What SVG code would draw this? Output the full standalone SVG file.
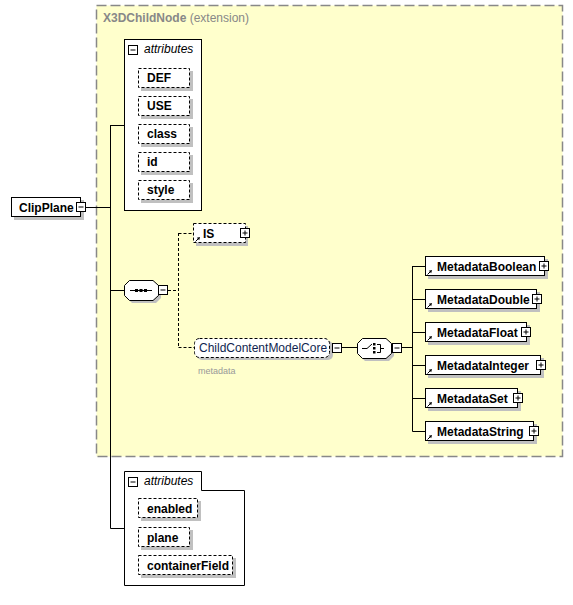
<svg xmlns="http://www.w3.org/2000/svg" width="573" height="605" viewBox="0 0 573 605">
<defs>
<style>
text{font-family:"Liberation Sans",Arial,sans-serif;}
.b{font-weight:bold;font-size:12px;fill:#000;}
.it{font-style:italic;font-size:12px;fill:#000;}
.sh{fill:#c0c0c0;stroke:none;}
.box{fill:#fff;stroke:#000;stroke-width:1;}
.dbox{fill:#fff;stroke:#000;stroke-width:1;stroke-dasharray:3,2;}
.ln{stroke:#000;stroke-width:1;fill:none;}
.dl{stroke:#000;stroke-width:1;fill:none;stroke-dasharray:3,2;}
.btn{fill:#fff;stroke:#000;stroke-width:1;}
</style>
<g id="minus"><rect class="btn" x="0.5" y="0.5" width="9" height="9"/><path d="M2.5,5H7.5" class="ln"/></g>
<g id="plus"><rect class="btn" x="0.5" y="0.5" width="9" height="9"/><path d="M2.5,5H7.5M5,2.5V7.5" class="ln"/></g>
<g id="ref"><path d="M0.5,5.5L4,2" class="ln" stroke-width="1.2"/><path d="M5,1L1.8,1.8L4.2,4.2Z" fill="#000"/></g>
</defs>
<rect width="573" height="605" fill="#fff"/>
<g id="extension">
<rect x="96.5" y="5.5" width="466" height="451" fill="#ffffcc" stroke="#888" stroke-width="1.5" stroke-dasharray="10,4"/>
<text x="103" y="22" font-size="12" fill="#888"><tspan font-weight="bold">X3DChildNode</tspan> (extension)</text>
</g>
<g id="connectors">
<path class="ln" d="M86,207.5H110.5M110.5,125V528.5M110.5,125.5H124M110.5,290.5H124M110.5,528.5H124"/>
<path class="dl" d="M168,290.5H178.5M178.5,233V347.5M178.5,233.5H193M178.5,347.5H194"/>
<path class="ln" d="M342,347.5H357M402,347.5H412.5M412.5,266V431.5M412.5,266.5H425M412.5,299.5H425M412.5,332.5H425M412.5,365.5H425M412.5,398.5H425M412.5,431.5H425"/>
</g>
<g id="ClipPlane">
<rect class="sh" x="14" y="200" width="70" height="20"/>
<rect class="box" x="11.5" y="197.5" width="69" height="19"/>
<text class="b" x="19" y="212">ClipPlane</text>
<use href="#minus" x="76" y="202"/>
</g>
<g id="attributes1">
<rect class="box" x="124.5" y="39.5" width="77" height="171"/>
<use href="#minus" x="128" y="45"/>
<text class="it" x="144" y="53">attributes</text>
</g>
<g id="DEF"><rect class="sh" x="141" y="71" width="52" height="20"/><rect class="dbox" x="138.5" y="68.5" width="51" height="19"/><text class="b" x="147" y="82">DEF</text></g>
<g id="USE"><rect class="sh" x="141" y="99" width="52" height="20"/><rect class="dbox" x="138.5" y="96.5" width="51" height="19"/><text class="b" x="147" y="110">USE</text></g>
<g id="class"><rect class="sh" x="141" y="127" width="52" height="20"/><rect class="dbox" x="138.5" y="124.5" width="51" height="19"/><text class="b" x="147" y="138">class</text></g>
<g id="id"><rect class="sh" x="141" y="155" width="52" height="20"/><rect class="dbox" x="138.5" y="152.5" width="51" height="19"/><text class="b" x="147" y="166">id</text></g>
<g id="style"><rect class="sh" x="141" y="183" width="52" height="20"/><rect class="dbox" x="138.5" y="180.5" width="51" height="19"/><text class="b" x="147" y="194">style</text></g>
<g id="sequence">
<path class="sh" d="M132,283H156L161,288V298L156,303H132L127,298V288Z"/>
<path class="box" d="M129.5,280.5H153L158.5,285.5V295.5L153,300.5H129.5L124.5,295.5V285.5Z"/>
<path class="ln" d="M130,290.5H152"/>
<rect x="135" y="289" width="3" height="3" fill="#000"/><rect x="139.5" y="289" width="3" height="3" fill="#000"/><rect x="144" y="289" width="3" height="3" fill="#000"/>
<use href="#minus" x="158" y="285"/>
</g>
<g id="IS">
<rect class="sh" x="196" y="226" width="52" height="20"/>
<rect class="dbox" x="193.5" y="223.5" width="52" height="19"/>
<use href="#ref" x="195" y="236"/>
<text class="b" x="203" y="238">IS</text>
<use href="#plus" x="240" y="228"/>
</g>
<g id="ChildContentModelCore">
<rect class="sh" x="197" y="341" width="136" height="19" rx="5"/>
<rect class="dbox" x="194.5" y="338.5" width="135" height="19" rx="5"/>
<text x="199" y="352" font-size="12" fill="#0f1f4f">ChildContentModelCore</text>
<use href="#minus" x="332" y="343"/>
<text x="198" y="374" font-size="9" fill="#999">metadata</text>
</g>
<g id="choice">
<path class="sh" d="M365,341H389L394,346V356L389,361H365L360,356V346Z"/>
<path class="box" d="M362.5,338.5H386L391.5,343.5V353.5L386,358.5H362.5L357.5,353.5V343.5Z"/>
<path class="ln" d="M362,348.5H367L372,344"/>
<rect x="373" y="343" width="2.5" height="2.5" fill="#000"/><rect x="373" y="347" width="2.5" height="2.5" fill="#000"/><rect x="373" y="351" width="2.5" height="2.5" fill="#000"/>
<path class="ln" d="M377,344.5H380.5V352.5H377M380.5,348.5H384"/>
<use href="#minus" x="392" y="343"/>
</g>
<g id="MetadataBoolean"><rect class="sh" x="428" y="259" width="120" height="20"/><rect class="box" x="425.5" y="256.5" width="119" height="19"/><use href="#ref" x="427" y="269"/><text class="b" x="437" y="271">MetadataBoolean</text><use href="#plus" x="539" y="261"/></g>
<g id="MetadataDouble"><rect class="sh" x="428" y="292" width="112" height="20"/><rect class="box" x="425.5" y="289.5" width="111" height="19"/><use href="#ref" x="427" y="302"/><text class="b" x="437" y="304">MetadataDouble</text><use href="#plus" x="532" y="294"/></g>
<g id="MetadataFloat"><rect class="sh" x="428" y="325" width="102" height="20"/><rect class="box" x="425.5" y="322.5" width="101" height="19"/><use href="#ref" x="427" y="335"/><text class="b" x="437" y="337">MetadataFloat</text><use href="#plus" x="521" y="327"/></g>
<g id="MetadataInteger"><rect class="sh" x="428" y="358" width="116" height="20"/><rect class="box" x="425.5" y="355.5" width="115" height="19"/><use href="#ref" x="427" y="368"/><text class="b" x="437" y="370">MetadataInteger</text><use href="#plus" x="536" y="360"/></g>
<g id="MetadataSet"><rect class="sh" x="428" y="391" width="93" height="20"/><rect class="box" x="425.5" y="388.5" width="92" height="19"/><use href="#ref" x="427" y="401"/><text class="b" x="437" y="403">MetadataSet</text><use href="#plus" x="513" y="393"/></g>
<g id="MetadataString"><rect class="sh" x="428" y="424" width="109" height="20"/><rect class="box" x="425.5" y="421.5" width="108" height="19"/><use href="#ref" x="427" y="434"/><text class="b" x="437" y="436">MetadataString</text><use href="#plus" x="529" y="426"/></g>
<g id="attributes2">
<path class="box" d="M124.5,471.5H201.5V490.5H244.5V585.5H124.5Z"/>
<use href="#minus" x="128" y="477"/>
<text class="it" x="144" y="485">attributes</text>
</g>
<g id="enabled"><rect class="sh" x="141" y="501" width="60" height="20"/><rect class="dbox" x="138.5" y="498.5" width="59" height="19"/><text class="b" x="147" y="513">enabled</text></g>
<g id="plane"><rect class="sh" x="141" y="530" width="52" height="20"/><rect class="dbox" x="138.5" y="527.5" width="51" height="19"/><text class="b" x="147" y="542">plane</text></g>
<g id="containerField"><rect class="sh" x="141" y="558" width="95" height="20"/><rect class="dbox" x="138.5" y="555.5" width="94" height="19"/><text class="b" x="147" y="570">containerField</text></g>
</svg>
